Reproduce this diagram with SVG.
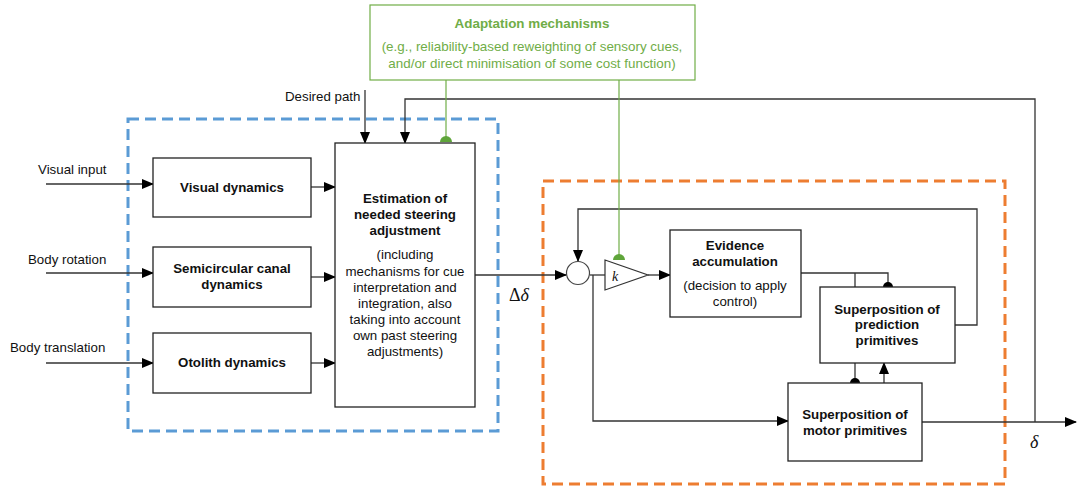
<svg xmlns="http://www.w3.org/2000/svg" width="1080" height="488" viewBox="0 0 1080 488">
<style>
.box{fill:#fff;stroke:#222;stroke-width:1.3}
.ln{fill:none;stroke:#333;stroke-width:1.3}
.gl{fill:none;stroke:#70ad47;stroke-width:1.2}
.t{font-family:"Liberation Sans",Arial,sans-serif;font-size:13.3px;fill:#111;text-anchor:middle}
.b{font-weight:bold}
.lbl{font-family:"Liberation Sans",Arial,sans-serif;font-size:13.3px;fill:#111}
.g{font-family:"Liberation Sans",Arial,sans-serif;font-size:13.4px;fill:#70ad47;text-anchor:middle}
.m{font-family:"Liberation Serif","Times New Roman",serif;font-size:18px;fill:#111}
</style>
<defs>
<marker id="ar" markerWidth="12" markerHeight="10" refX="11" refY="5" orient="auto" markerUnits="userSpaceOnUse">
<path d="M0,0 L12,5 L0,10 Z" fill="#000"/>
</marker>
</defs>
<rect x="128" y="119" width="370" height="312" fill="none" stroke="#5b9bd5" stroke-width="3" stroke-dasharray="11,6"/>
<rect x="543" y="181" width="462" height="303" fill="none" stroke="#ed7d31" stroke-width="3" stroke-dasharray="11,6"/>
<g id="connectors">
<path class="ln" d="M46,184 H153" marker-end="url(#ar)"/>
<path class="ln" d="M46,273 H153" marker-end="url(#ar)"/>
<path class="ln" d="M46,363 H153" marker-end="url(#ar)"/>
<path class="ln" d="M311,187 H335" marker-end="url(#ar)"/>
<path class="ln" d="M311,277 H335" marker-end="url(#ar)"/>
<path class="ln" d="M311,363 H335" marker-end="url(#ar)"/>
<path class="ln" d="M365,90 V143" marker-end="url(#ar)"/>
<path class="ln" d="M1035,422 V99 H405 V143" marker-end="url(#ar)"/>
<path class="ln" d="M475,275 H566" marker-end="url(#ar)"/>
<path class="ln" d="M955,325 H977 V209 H578 V261" marker-end="url(#ar)"/>
<path class="ln" d="M590,275 H605"/>
<path class="ln" d="M593,275 V421 H788" marker-end="url(#ar)"/>
<path class="ln" d="M648,275 H670" marker-end="url(#ar)"/>
<path class="ln" d="M801,273 H888 V287"/>
<path class="ln" d="M855,273 V287"/>
<path class="ln" d="M855,363 V383"/>
<path class="ln" d="M884,383 V363" marker-end="url(#ar)"/>
<path class="ln" d="M922,422 H1076" marker-end="url(#ar)"/>
<circle cx="888" cy="287" r="5" fill="#000"/>
<circle cx="855" cy="383" r="5" fill="#000"/>
<path class="gl" d="M446,80 V140"/>
<path d="M440,142 A6,6 0 0 1 452,142 Z" fill="#5fa53a"/>
<path class="gl" d="M619,80 V258"/>
<path d="M613,260 A6,6 0 0 1 625,260 Z" fill="#5fa53a"/>
</g>
<g id="adaptation">
<rect x="370" y="5" width="325" height="75" fill="#fff" stroke="#70ad47" stroke-width="1.2"/>
<text class="g b" x="532" y="28">Adaptation mechanisms</text>
<text class="g" x="532" y="51">(e.g., reliability-based reweighting of sensory cues,</text>
<text class="g" x="532" y="68">and/or direct minimisation of some cost function)</text>
</g>
<g id="labels">
<text class="lbl" x="38" y="174">Visual input</text>
<text class="lbl" x="28" y="264">Body rotation</text>
<text class="lbl" x="10" y="352">Body translation</text>
<text class="lbl" x="285" y="101">Desired path</text>
<text class="m" x="509" y="301">Δ<tspan font-style="italic">δ</tspan></text>
<text class="m" x="1030" y="448" font-style="italic">δ</text>
</g>
<g id="visual">
<rect class="box" x="153" y="158" width="158" height="59"/>
<text class="t b" x="232" y="192">Visual dynamics</text>
</g>
<g id="semicircular">
<rect class="box" x="153" y="247" width="158" height="60"/>
<text class="t b" x="232" y="273">Semicircular canal</text>
<text class="t b" x="232" y="289">dynamics</text>
</g>
<g id="otolith">
<rect class="box" x="153" y="333" width="158" height="60"/>
<text class="t b" x="232" y="367">Otolith dynamics</text>
</g>
<g id="estimation">
<rect class="box" x="335" y="143" width="140" height="264"/>
<text class="t b" x="405" y="203">Estimation of</text>
<text class="t b" x="405" y="219">needed steering</text>
<text class="t b" x="405" y="235">adjustment</text>
<text class="t" x="405" y="259">(including</text>
<text class="t" x="405" y="276">mechanisms for cue</text>
<text class="t" x="405" y="292">interpretation and</text>
<text class="t" x="405" y="308">integration, also</text>
<text class="t" x="405" y="324">taking into account</text>
<text class="t" x="405" y="340">own past steering</text>
<text class="t" x="405" y="356">adjustments)</text>
</g>
<g id="sum">
<circle cx="578" cy="273" r="11.5" fill="#fff" stroke="#444" stroke-width="1.2"/>
</g>
<g id="gain">
<path d="M605,260 L648,275 L605,290 Z" fill="#fff" stroke="#333" stroke-width="1.2"/>
<text x="612" y="281" font-family="Liberation Serif,serif" font-style="italic" font-size="14" fill="#111">k</text>
</g>
<g id="evidence">
<rect class="box" x="670" y="230" width="131" height="87"/>
<text class="t b" x="735" y="250">Evidence</text>
<text class="t b" x="735" y="266">accumulation</text>
<text class="t" x="735" y="290">(decision to apply</text>
<text class="t" x="735" y="306">control)</text>
</g>
<g id="prediction">
<rect class="box" x="820" y="287" width="135" height="76"/>
<text class="t b" x="887" y="314">Superposition of</text>
<text class="t b" x="887" y="329">prediction</text>
<text class="t b" x="887" y="345">primitives</text>
</g>
<g id="motor">
<rect class="box" x="788" y="383" width="134" height="78"/>
<text class="t b" x="855" y="419">Superposition of</text>
<text class="t b" x="855" y="435">motor primitives</text>
</g>
</svg>
